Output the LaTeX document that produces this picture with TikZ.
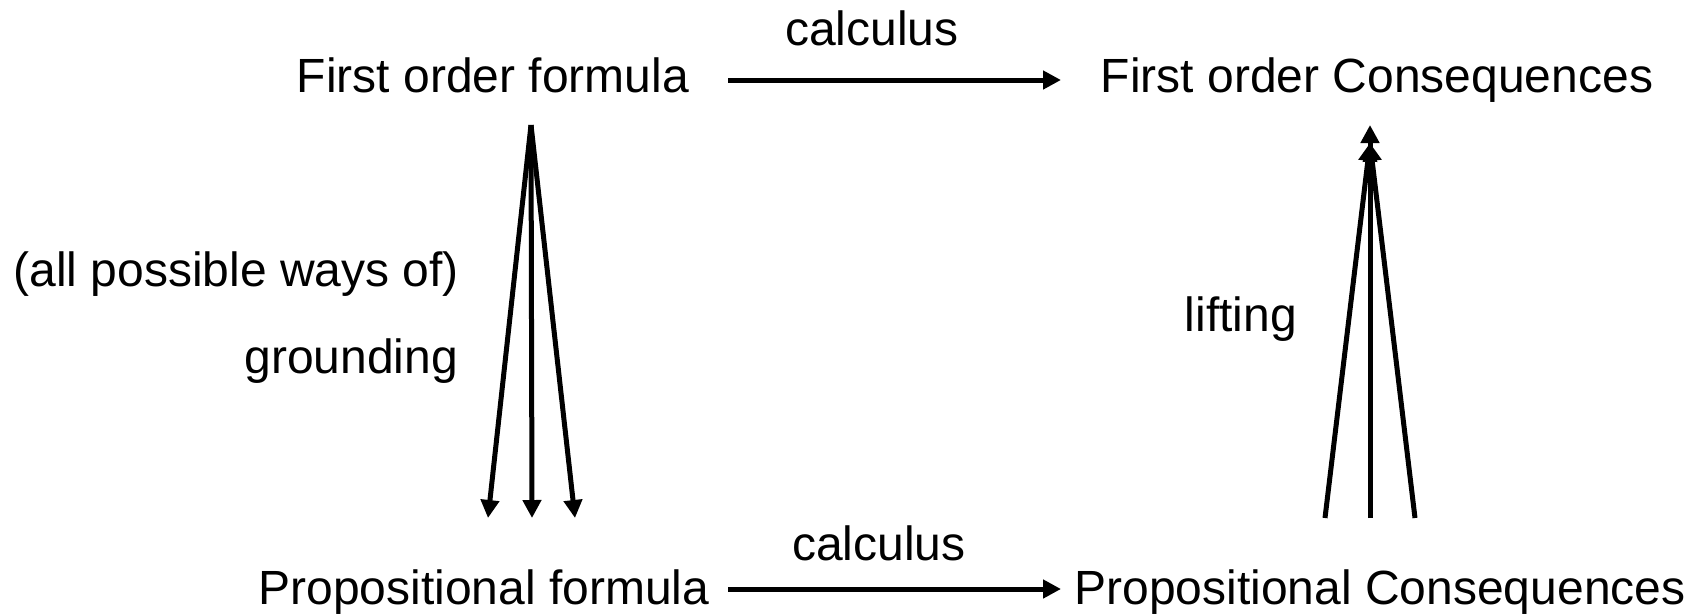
\documentclass[tikz,border=0pt]{standalone}
\usepackage{fontspec}
\setmainfont{Liberation Sans}
\usetikzlibrary{arrows.meta}
\tikzset{
  lbl/.style={inner sep=0pt, outer sep=0pt, font=\fontsize{48}{57}\selectfont},
  conn/.style={line width=5pt, -{Triangle[length=18pt,width=18pt]}},
}
\begin{document}
\begin{tikzpicture}[x=1pt,y=-1pt]
\useasboundingbox[fill=white] (0,0) rectangle (1700,614);
% text nodes
\node[lbl, anchor=base] (fof) at (493,92) {First order formula};
\node[lbl, anchor=base] (foc) at (1377,92) {First order Consequences};
\node[lbl, anchor=base] (pf) at (484,604) {Propositional formula};
\node[lbl, anchor=base] (pc) at (1380,604) {Propositional Consequences};
\node[lbl, anchor=base] (calctop) at (872,45) {calculus};
\node[lbl, anchor=base] (calcbot) at (879,560) {calculus};
\node[lbl, anchor=base east] (ways) at (459,286) {(all possible ways of)};
\node[lbl, anchor=base east] (ground) at (458,373) {grounding};
\node[lbl, anchor=base east] (lift) at (1297,331) {lifting};
% connector end points
\coordinate (ta) at (728,80);
\coordinate (tb) at (1061,80);
\coordinate (ba) at (728,589);
\coordinate (bb) at (1061,589);
\coordinate (lapex) at (531,125);
\coordinate (l1) at (488,518);
\coordinate (l2) at (532,518);
\coordinate (l3) at (575,518);
\coordinate (rtop) at (1370,125);
\coordinate (rside) at (1370,143);
\coordinate (r1) at (1325,518);
\coordinate (r2) at (1370,518);
\coordinate (r3) at (1415,518);
% horizontal arrows
\draw[conn] (ta) -- (tb);
\draw[conn] (ba) -- (bb);
% grounding fan
\draw[conn] (lapex) -- (l1);
\draw[conn] (lapex) -- (l2);
\draw[conn] (lapex) -- (l3);
% lifting fan
\draw[conn] (r1) -- (rside);
\draw[conn] (r3) -- (rside);
\draw[conn] (r2) -- (rtop);
\end{tikzpicture}
\end{document}
